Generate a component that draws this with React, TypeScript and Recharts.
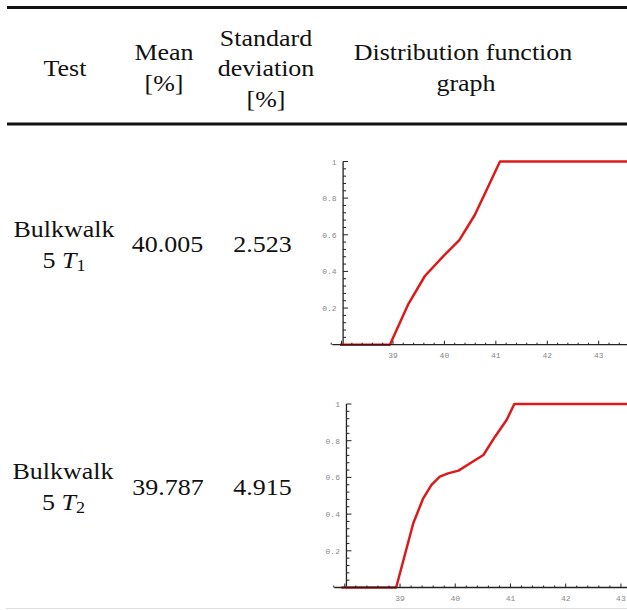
import React from 'react';
import { LineChart, Line, XAxis, YAxis, ReferenceLine } from 'recharts';

// ---- table content ----
const headerTest = ['Test'];
const headerMean = ['Mean', '[%]'];
const headerStd = ['Standard', 'deviation', '[%]'];
const headerGraph = ['Distribution function', 'graph'];
const testNames = ['Bulkwalk', 'Bulkwalk'];
const testSubs = ['1', '2'];
const means = ['40.005', '39.787'];
const stdDevs = ['2.523', '4.915'];

// ---- distribution function curves ----
const cdf1X = [37.97, 38.94, 39.29, 39.62, 39.98, 40.29, 40.59, 40.82, 41.08, 43.55];
const cdf1Y = [0, 0, 0.217, 0.375, 0.484, 0.571, 0.708, 0.844, 1, 1];
const cdf2X = [37.94, 38.93, 39.24, 39.42, 39.57, 39.72, 39.87, 40.06, 40.27, 40.51, 40.72, 40.93, 41.07, 43.11];
const cdf2Y = [0, 0, 0.35, 0.486, 0.559, 0.604, 0.622, 0.637, 0.677, 0.722, 0.822, 0.913, 1, 1];

// ---- tick labels ----
const xMajorLabels = [39, 40, 41, 42, 43];
const yMajorLabels = ['0.2', '0.4', '0.6', '0.8', '1'];
const yAxisOrigin = 38.03;

const SERIF = '"Liberation Serif", "Times New Roman", serif';
const MONO = '"Liberation Mono", "DejaVu Sans Mono", monospace';

function minorTicks(from: number, to: number): number[] {
  const out: number[] = [];
  for (let i = 0; ; i++) {
    const v = Math.round((from + i * 0.2) * 10) / 10;
    if (v > to) break;
    out.push(v);
  }
  return out;
}

const XTick = (props: any) => {
  const { x, y, payload } = props;
  const v = payload.value as number;
  const r = Math.round(v);
  const major = Math.abs(v - r) < 1e-6;
  return (
    <g>
      <line x1={x} x2={x} y1={y} y2={y - (major ? 4 : 2)} stroke="#222" strokeWidth={1} />
      {major && xMajorLabels.includes(r) && (
        <text x={x} y={y + 13.5} textAnchor="middle" fontFamily={MONO} fontSize={8} fill="#888">
          {r}
        </text>
      )}
    </g>
  );
};

const YAxisShape = (props: any) => {
  const { x1, y1, y2 } = props; // y1 -> value 0, y2 -> value 1
  const items: React.ReactNode[] = [];
  for (let i = 1; i <= 25; i++) {
    const frac = i / 25;
    const yy = y1 + (y2 - y1) * frac;
    const major = i % 5 === 0;
    items.push(
      <line key={'t' + i} x1={x1} x2={x1 + (major ? 5 : 3)} y1={yy} y2={yy} stroke="#222" strokeWidth={1} />
    );
    if (major) {
      items.push(
        <text key={'l' + i} x={x1 - 6.5} y={yy + 3} textAnchor="end" fontFamily={MONO} fontSize={8} fill="#888">
          {yMajorLabels[i / 5 - 1]}
        </text>
      );
    }
  }
  return (
    <g>
      <line x1={x1} x2={x1} y1={y1} y2={y2} stroke="#222" strokeWidth={1.3} />
      {items}
    </g>
  );
};

type CdfProps = {
  xs: number[];
  ys: number[];
  left: number;
  top: number;
  width: number;
  height: number;
  marginTop: number;
  marginLeft: number;
  axisHeight: number;
  domain: [number, number];
};

const CdfChart = ({ xs, ys, left, top, width, height, marginTop, marginLeft, axisHeight, domain }: CdfProps) => {
  const data = xs.map((x, i) => ({ x, y: ys[i] }));
  return (
    <div style={{ position: 'absolute', left, top, width, height }}>
      <LineChart width={width} height={height} data={data} margin={{ top: marginTop, right: 0, bottom: 0, left: marginLeft }}>
        <XAxis
          dataKey="x"
          type="number"
          scale="linear"
          domain={domain}
          ticks={minorTicks(37.8, domain[1])}
          interval={0}
          tickLine={false}
          tickSize={0}
          tickMargin={0}
          tick={<XTick />}
          axisLine={{ stroke: '#222', strokeWidth: 1.3 }}
          height={axisHeight}
        />
        <YAxis type="number" domain={[0, 1]} hide />
        <ReferenceLine
          segment={[{ x: yAxisOrigin, y: 0 }, { x: yAxisOrigin, y: 1 }]}
          shape={<YAxisShape />}
        />
        <Line
          type="linear"
          dataKey="y"
          stroke="#dd1a1a"
          strokeWidth={2.5}
          dot={false}
          strokeLinejoin="round"
          isAnimationActive={false}
        />
      </LineChart>
    </div>
  );
};

const T = ({ cx, y, children, italic }: { cx: number; y: number; children: React.ReactNode; italic?: boolean }) => (
  <text
    transform={`translate(${cx},${y}) scale(1.13,1)`}
    textAnchor="middle"
    fontFamily={SERIF}
    fontSize={23}
    fill="#111"
    fontStyle={italic ? 'italic' : undefined}
  >
    {children}
  </text>
);

const TestLabel = ({ cx, y, sub }: { cx: number; y: number; sub: string }) => (
  <text transform={`translate(${cx},${y}) scale(1.13,1)`} textAnchor="middle" fontFamily={SERIF} fontSize={23} fill="#111">
    <tspan>5 </tspan>
    <tspan fontStyle="italic">T</tspan>
    <tspan fontSize={16} dy={3}>{sub}</tspan>
  </text>
);

export default function App() {
  return (
    <div style={{ position: 'absolute', left: 0, top: 0, width: 627, height: 610, background: '#fff', overflow: 'hidden' }}>
      <svg width={627} height={610} style={{ position: 'absolute', left: 0, top: 0 }}>
        <rect x={7} y={6} width={620} height={3} fill="#111" />
        <rect x={7} y={122.5} width={620} height={3} fill="#111" />
        <rect x={6} y={608} width={621} height={1} fill="#dedede" />

        <T cx={65} y={76}>{headerTest[0]}</T>
        <T cx={164} y={60}>{headerMean[0]}</T>
        <T cx={164} y={91}>{headerMean[1]}</T>
        <T cx={266} y={46}>{headerStd[0]}</T>
        <T cx={266} y={76}>{headerStd[1]}</T>
        <T cx={266} y={107}>{headerStd[2]}</T>
        <T cx={463} y={60}>{headerGraph[0]}</T>
        <T cx={466} y={91}>{headerGraph[1]}</T>

        <T cx={64} y={237}>{testNames[0]}</T>
        <TestLabel cx={64} y={268} sub={testSubs[0]} />
        <T cx={167.5} y={252}>{means[0]}</T>
        <T cx={262.5} y={252}>{stdDevs[0]}</T>

        <T cx={63} y={479}>{testNames[1]}</T>
        <TestLabel cx={63.5} y={510} sub={testSubs[1]} />
        <T cx={168} y={495}>{means[1]}</T>
        <T cx={262.5} y={495}>{stdDevs[1]}</T>
      </svg>

      <CdfChart
        xs={cdf1X}
        ys={cdf1Y}
        left={320}
        top={140}
        width={307}
        height={230}
        marginTop={21.5}
        marginLeft={12.3}
        axisHeight={25.3}
        domain={[37.82, 43.55]}
      />
      <CdfChart
        xs={cdf2X}
        ys={cdf2Y}
        left={320}
        top={384}
        width={307}
        height={226}
        marginTop={20}
        marginLeft={14.3}
        axisHeight={22.5}
        domain={[37.81, 43.11]}
      />
    </div>
  );
}
